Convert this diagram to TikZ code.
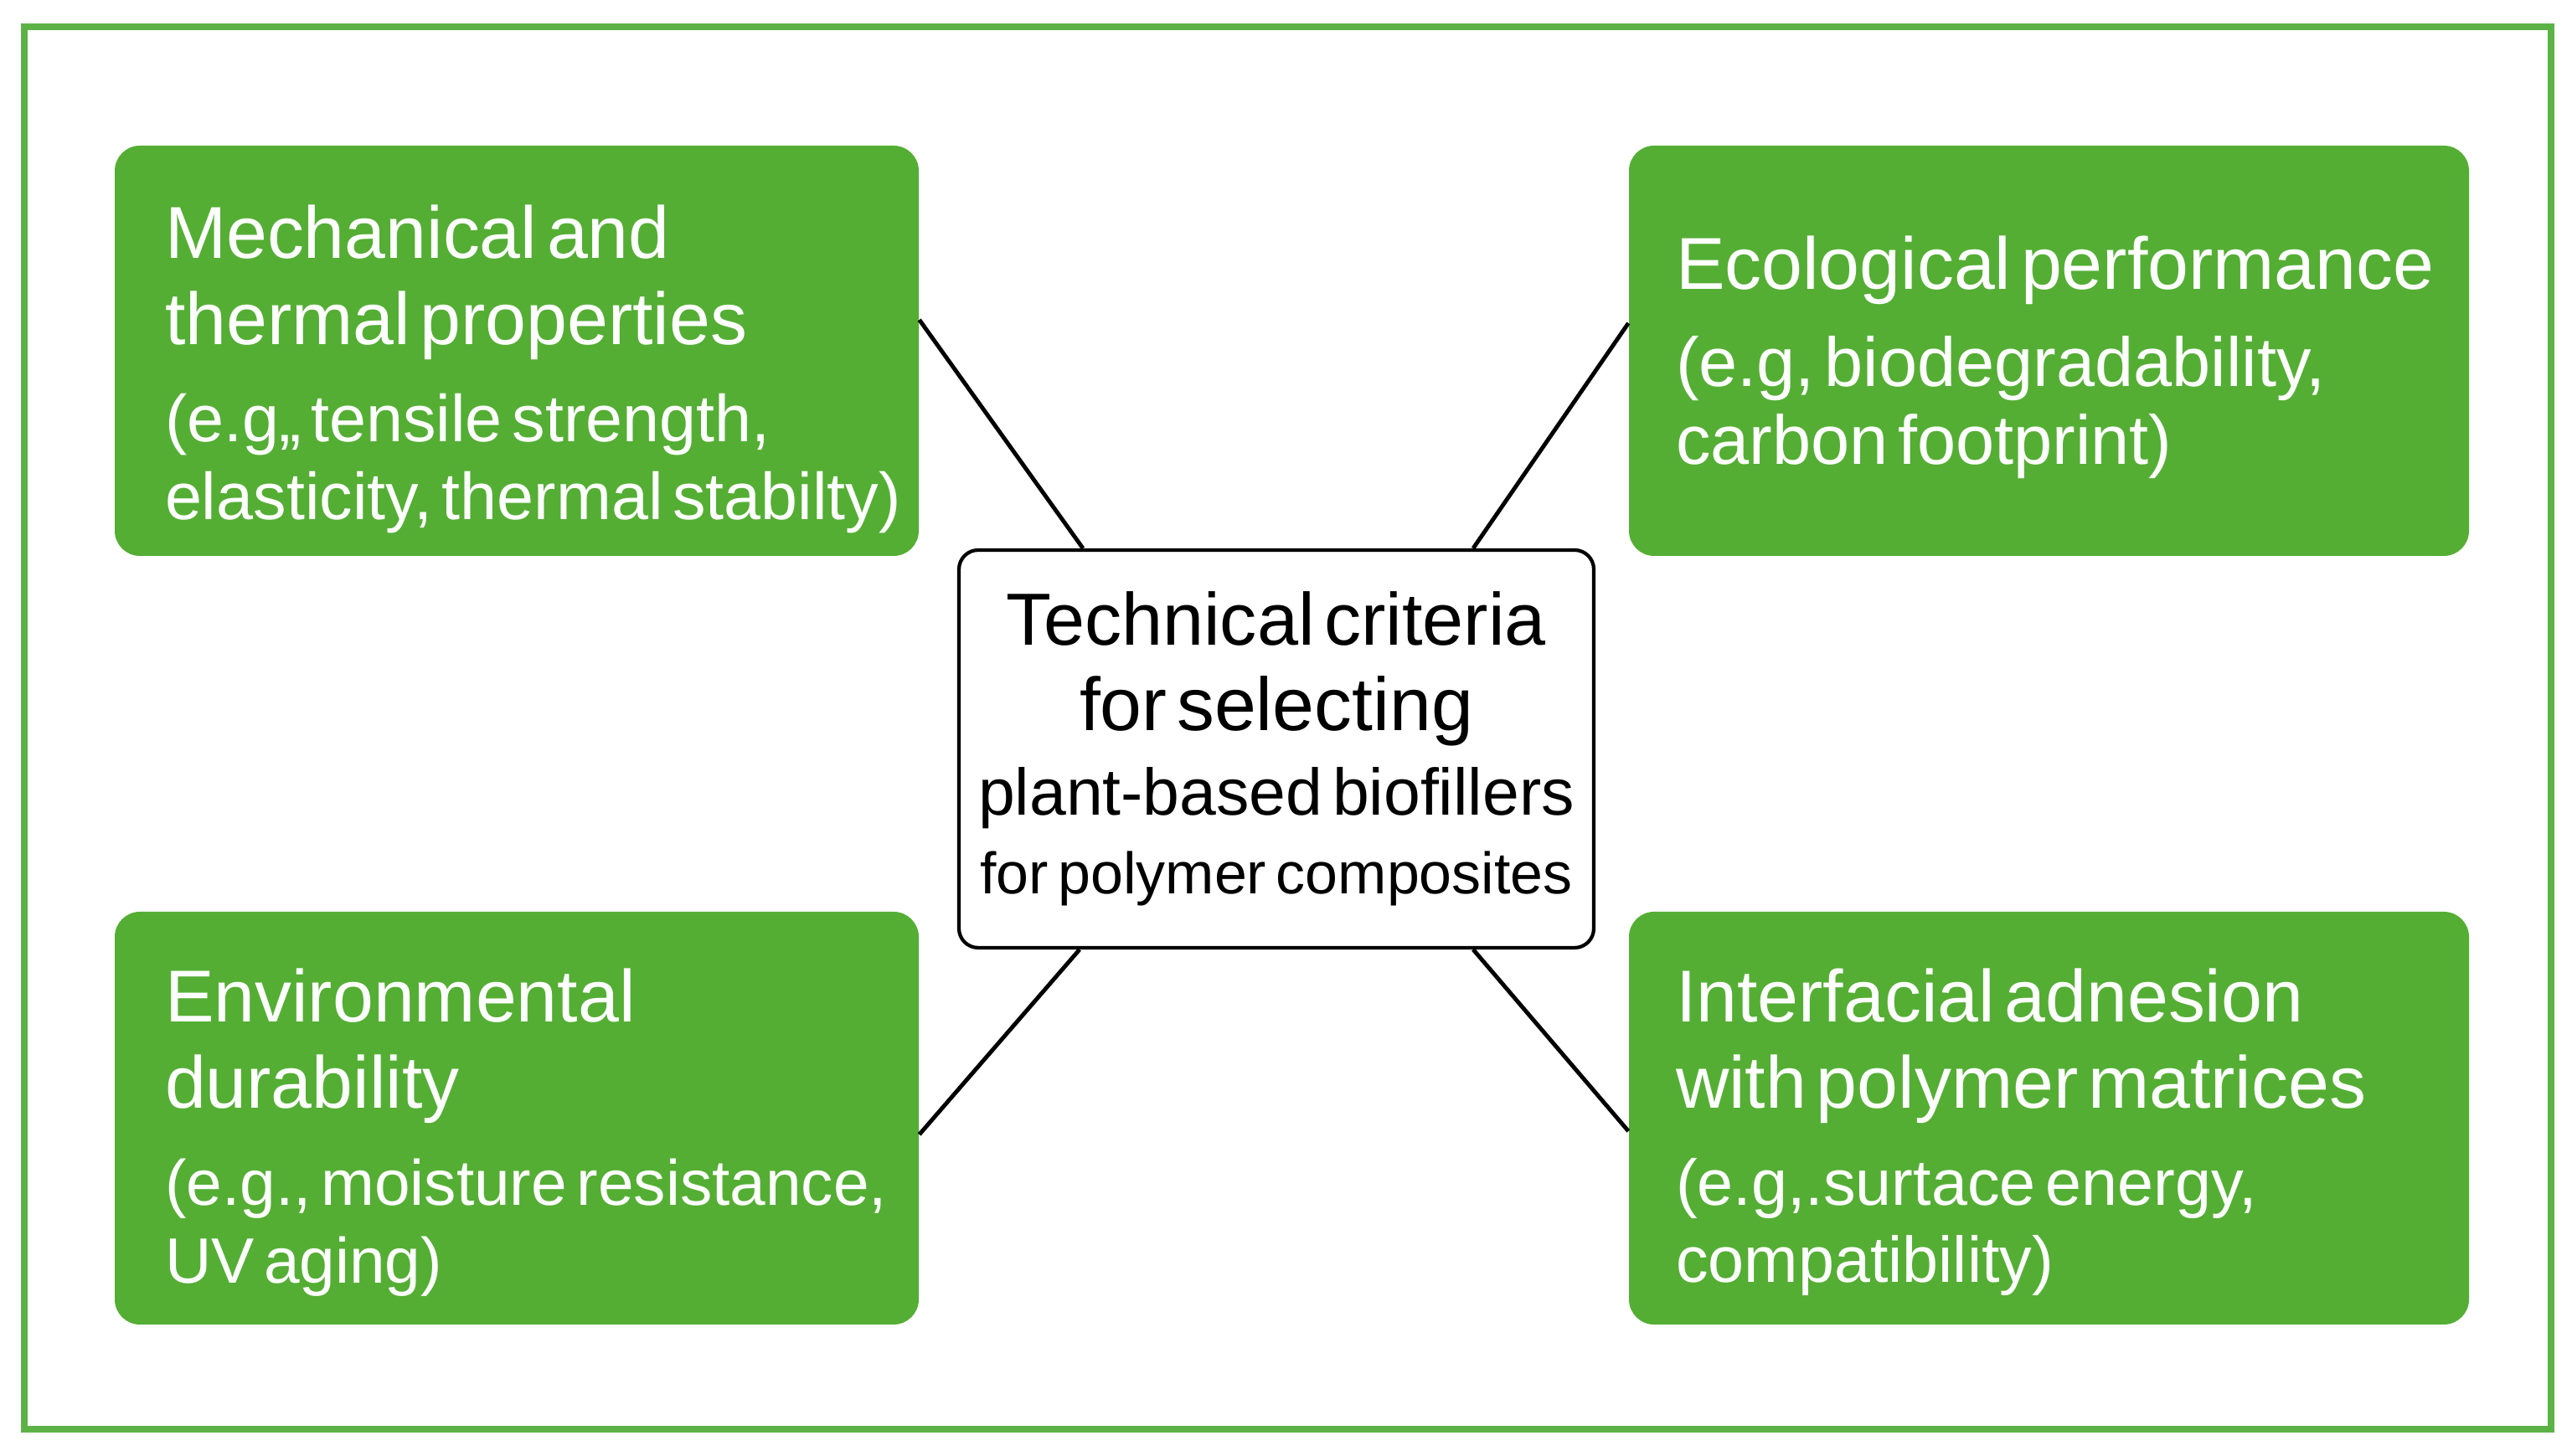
\documentclass[tikz,border=0pt]{standalone}
\usepackage{fontspec}
\setmainfont{Liberation Sans}
\usepackage{tikz}
\usetikzlibrary{positioning}
\usepackage{xcolor}
\definecolor{leafgreen}{RGB}{84,174,52}
\definecolor{framegreen}{RGB}{92,178,70}
\setlength{\parindent}{0pt}
\newcommand{\ttltxt}{\fontsize{25}{29.2}\selectfont}
\newcommand{\subtxt}[1]{\fontsize{#1}{26.4}\selectfont}
\tikzset{
	card/.style={fill=leafgreen, rounded corners=0.3cm, inner sep=0pt},
	cardtext/.style={text=white, align=left, text width=9.6cm, inner sep=0pt},
	hub/.style={draw=black, line width=1.2pt, rounded corners=0.23cm, fill=white, align=center,
		text width=7.5cm, inner sep=0pt, minimum width=7.58cm, minimum height=4.75cm},
	spoke/.style={line width=1.4pt}
}

\begin{document}
\begin{tikzpicture}
				\useasboundingbox (0,0) rectangle (30.71,17.39);
				\draw[framegreen, line width=2.5pt] (0.29,0.32) rectangle (30.46,17.07);
				
				\node[card, minimum width=9.60cm, minimum height=4.90cm] (mech) at (6.17,13.20) {};
				\node[card, minimum width=10.03cm, minimum height=4.90cm] (eco) at (24.465,13.20) {};
				\node[card, minimum width=9.60cm, minimum height=4.93cm] (env) at (6.17,4.035) {};
				\node[card, minimum width=10.03cm, minimum height=4.93cm] (adh) at (24.465,4.035) {};
				
				\node[cardtext, right=0.6cm of mech.west, yshift=-0.22cm] (mechtxt)
				{{\ttltxt Mechanical and\\ thermal properties\par}\vspace{6.6pt}
					{\subtxt{22.5} (e.g,, tensile strength,\\ elasticity, thermal stabilty)\par}};
				\node[cardtext, right=0.56cm of eco.west, yshift=-0.08cm] (ecotxt)
				{{\ttltxt Ecological performance\par}\vspace{6.6pt}
					{\subtxt{23.6} (e.g, biodegradability,\\ carbon footprint)\par}};
				\node[cardtext, right=0.6cm of env.west, yshift=-0.17cm] (envtxt)
				{{\ttltxt Environmental\\ durability\par}\vspace{6.6pt}
					{\subtxt{21.8} (e.g., moisture resistance,\\ UV aging)\par}};
				\node[cardtext, right=0.56cm of adh.west, yshift=-0.17cm] (adhtxt)
				{{\ttltxt Interfacial adnesion\\ with polymer matrices\par}\vspace{6.6pt}
					{\subtxt{22} (e.g,.surtace energy,\\ compatibility)\par}};
				
				\node[hub] (crit) at (15.24,8.445)
				{\fontsize{25.1}{28.8}\selectfont Technical criteria\\
					\fontsize{25.5}{28.8}\selectfont for selecting\\
					\fontsize{22.4}{28.8}\selectfont plant-based biofillers\\[-2pt]
					\fontsize{19.9}{28.8}\selectfont for polymer composites\par};
				
				\draw[spoke] ([yshift=0.37cm]mech.east) -- ([xshift=-2.31cm]crit.north);
				\draw[spoke] ([yshift=0.33cm]eco.west) -- ([xshift=2.35cm]crit.north);
				\draw[spoke] ([yshift=-0.195cm]env.east) -- ([xshift=-2.35cm]crit.south);
				\draw[spoke] ([yshift=-0.155cm]adh.west) -- ([xshift=2.35cm]crit.south);
\end{tikzpicture}
\end{document}
